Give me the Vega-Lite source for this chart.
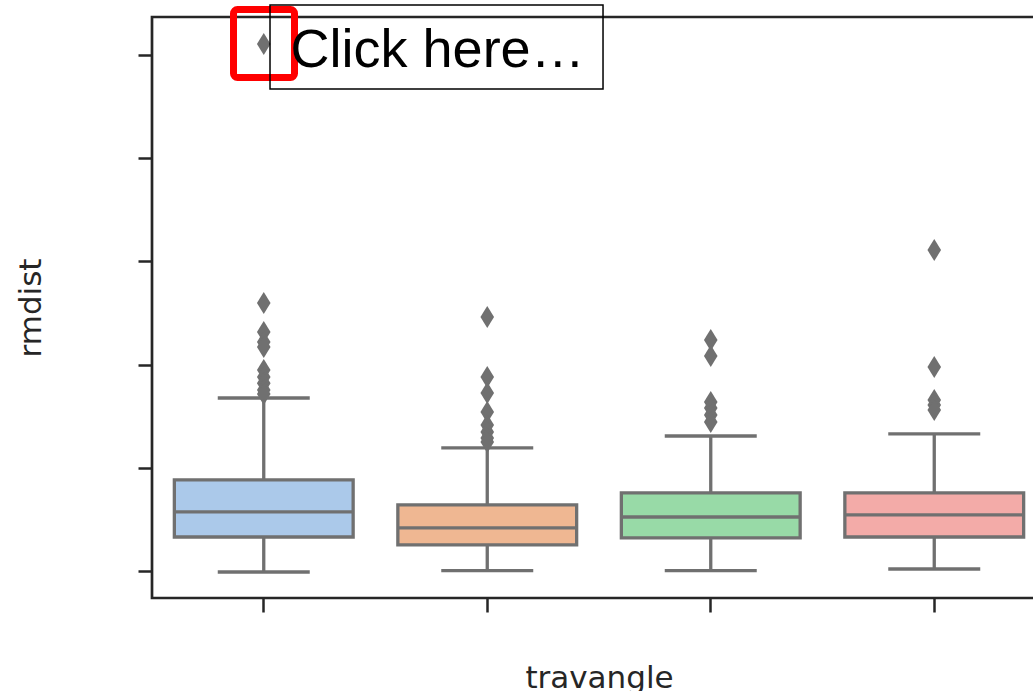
{
  "$schema": "https://vega.github.io/schema/vega-lite/v6.json",
  "width": 894,
  "height": 581,
  "autosize": "none",
  "padding": {"left": 152, "top": 17, "right": 0, "bottom": 93},
  "background": "white",
  "config": {
    "view": {"stroke": "#262626", "strokeWidth": 2.7},
    "axis": {
      "grid": false,
      "domain": false,
      "labels": false,
      "tickColor": "#262626",
      "tickWidth": 2.5,
      "tickSize": 14,
      "titleFont": "DejaVu Sans",
      "titleFontSize": 31,
      "titleFontWeight": "normal",
      "titleColor": "#262626"
    }
  },
  "datasets": {
    "boxes": [
      {"travangle": "A", "lower": -0.01, "q1": 0.329, "median": 0.572, "q3": 0.882, "upper": 1.676},
      {"travangle": "B", "lower": 0.003, "q1": 0.252, "median": 0.417, "q3": 0.64, "upper": 1.192},
      {"travangle": "C", "lower": 0.003, "q1": 0.32, "median": 0.523, "q3": 0.756, "upper": 1.308},
      {"travangle": "D", "lower": 0.019, "q1": 0.329, "median": 0.543, "q3": 0.756, "upper": 1.328}
    ],
    "outliers": [
      {"travangle": "A", "rmdist": 5.107},
      {"travangle": "A", "rmdist": 2.597},
      {"travangle": "A", "rmdist": 2.316},
      {"travangle": "A", "rmdist": 2.219},
      {"travangle": "A", "rmdist": 2.17},
      {"travangle": "A", "rmdist": 1.948},
      {"travangle": "A", "rmdist": 1.88},
      {"travangle": "A", "rmdist": 1.82},
      {"travangle": "A", "rmdist": 1.754},
      {"travangle": "A", "rmdist": 1.715},
      {"travangle": "B", "rmdist": 2.461},
      {"travangle": "B", "rmdist": 1.88},
      {"travangle": "B", "rmdist": 1.725},
      {"travangle": "B", "rmdist": 1.541},
      {"travangle": "B", "rmdist": 1.415},
      {"travangle": "B", "rmdist": 1.347},
      {"travangle": "B", "rmdist": 1.289},
      {"travangle": "B", "rmdist": 1.25},
      {"travangle": "C", "rmdist": 2.238},
      {"travangle": "C", "rmdist": 2.083},
      {"travangle": "C", "rmdist": 1.638},
      {"travangle": "C", "rmdist": 1.579},
      {"travangle": "C", "rmdist": 1.512},
      {"travangle": "C", "rmdist": 1.444},
      {"travangle": "D", "rmdist": 3.11},
      {"travangle": "D", "rmdist": 1.977},
      {"travangle": "D", "rmdist": 1.657},
      {"travangle": "D", "rmdist": 1.609},
      {"travangle": "D", "rmdist": 1.56}
    ],
    "highlight": [{"x0": 0.3647, "x1": 0.6376, "y0": 5.441, "y1": 4.782}],
    "textbox": [{"x0": 0.528, "x1": 2.018, "y0": 5.484, "y1": 4.671}],
    "label": [{"x": 0.62, "y": 4.884, "text": "Click here…"}]
  },
  "layer": [
    {
      "data": {"name": "boxes"},
      "layer": [
        {
          "mark": {"type": "rule", "stroke": "#707070", "strokeWidth": 3.3},
          "encoding": {
            "x": {"field": "travangle", "type": "nominal", "scale": {"type": "band", "domain": ["A", "B", "C", "D"], "paddingInner": 0, "paddingOuter": 0}, "title": "travangle", "axis": {"titlePadding": 50}},
            "y": {"field": "lower", "type": "quantitative", "scale": {"domain": [-0.262, 5.368], "nice": false, "zero": false}, "title": "rmdist", "axis": {"values": [0, 1, 2, 3, 4, 5], "titlePadding": 89}},
            "y2": {"field": "q1"}
          }
        },
        {
          "mark": {"type": "rule", "stroke": "#707070", "strokeWidth": 3.3},
          "encoding": {
            "x": {"field": "travangle", "type": "nominal", "scale": {"type": "band", "domain": ["A", "B", "C", "D"], "paddingInner": 0, "paddingOuter": 0}, "title": "travangle"},
            "y": {"field": "q3", "type": "quantitative", "scale": {"domain": [-0.262, 5.368], "nice": false, "zero": false}, "title": "rmdist"},
            "y2": {"field": "upper"}
          }
        },
        {
          "mark": {"type": "tick", "color": "#707070", "size": 92, "thickness": 3.3, "opacity": 1},
          "encoding": {
            "x": {"field": "travangle", "type": "nominal", "scale": {"type": "band", "domain": ["A", "B", "C", "D"], "paddingInner": 0, "paddingOuter": 0}, "title": "travangle"},
            "y": {"field": "lower", "type": "quantitative", "scale": {"domain": [-0.262, 5.368], "nice": false, "zero": false}, "title": "rmdist"}
          }
        },
        {
          "mark": {"type": "tick", "color": "#707070", "size": 92, "thickness": 3.3, "opacity": 1},
          "encoding": {
            "x": {"field": "travangle", "type": "nominal", "scale": {"type": "band", "domain": ["A", "B", "C", "D"], "paddingInner": 0, "paddingOuter": 0}, "title": "travangle"},
            "y": {"field": "upper", "type": "quantitative", "scale": {"domain": [-0.262, 5.368], "nice": false, "zero": false}, "title": "rmdist"}
          }
        },
        {
          "mark": {"type": "bar", "width": {"band": 0.8}, "stroke": "#707070", "strokeWidth": 3.3},
          "encoding": {
            "x": {"field": "travangle", "type": "nominal", "scale": {"type": "band", "domain": ["A", "B", "C", "D"], "paddingInner": 0, "paddingOuter": 0}, "title": "travangle"},
            "y": {"field": "q1", "type": "quantitative", "scale": {"domain": [-0.262, 5.368], "nice": false, "zero": false}, "title": "rmdist"},
            "y2": {"field": "q3"},
            "color": {"field": "travangle", "type": "nominal", "scale": {"domain": ["A", "B", "C", "D"], "range": ["#abc9ea", "#efb792", "#98daa7", "#f3aba8"]}, "legend": null}
          }
        },
        {
          "mark": {"type": "tick", "color": "#707070", "size": 179, "thickness": 3.3, "opacity": 1},
          "encoding": {
            "x": {"field": "travangle", "type": "nominal", "scale": {"type": "band", "domain": ["A", "B", "C", "D"], "paddingInner": 0, "paddingOuter": 0}, "title": "travangle"},
            "y": {"field": "median", "type": "quantitative", "scale": {"domain": [-0.262, 5.368], "nice": false, "zero": false}, "title": "rmdist"}
          }
        },
        {
          "data": {"name": "outliers"},
          "mark": {"type": "point", "shape": "M0,-1L0.62,0L0,1L-0.62,0Z", "filled": true, "size": 484, "color": "#707070", "opacity": 1, "strokeWidth": 0},
          "encoding": {
            "x": {"field": "travangle", "type": "nominal", "scale": {"type": "band", "domain": ["A", "B", "C", "D"], "paddingInner": 0, "paddingOuter": 0}, "title": "travangle"},
            "y": {"field": "rmdist", "type": "quantitative", "scale": {"domain": [-0.262, 5.368], "nice": false, "zero": false}, "title": "rmdist"}
          }
        }
      ]
    },
    {
      "layer": [
        {
          "data": {"name": "highlight"},
          "mark": {"type": "rect", "fill": null, "fillOpacity": 0, "stroke": "#ff0000", "strokeWidth": 7, "cornerRadius": 4},
          "encoding": {
            "x": {"field": "x0", "type": "quantitative", "scale": {"domain": [0, 4], "nice": false, "zero": false}, "axis": null},
            "x2": {"field": "x1"},
            "y": {"field": "y0", "type": "quantitative", "scale": {"domain": [-0.262, 5.368], "nice": false, "zero": false}, "title": "rmdist"},
            "y2": {"field": "y1"}
          }
        },
        {
          "data": {"name": "textbox"},
          "mark": {"type": "rect", "fill": null, "fillOpacity": 0, "stroke": "#000000", "strokeWidth": 1.5},
          "encoding": {
            "x": {"field": "x0", "type": "quantitative", "scale": {"domain": [0, 4], "nice": false, "zero": false}, "axis": null},
            "x2": {"field": "x1"},
            "y": {"field": "y0", "type": "quantitative", "scale": {"domain": [-0.262, 5.368], "nice": false, "zero": false}, "title": "rmdist"},
            "y2": {"field": "y1"}
          }
        },
        {
          "data": {"name": "label"},
          "mark": {"type": "text", "font": "Liberation Sans", "fontSize": 54, "align": "left", "baseline": "alphabetic", "color": "#000000"},
          "encoding": {
            "x": {"field": "x", "type": "quantitative", "scale": {"domain": [0, 4], "nice": false, "zero": false}, "axis": null},
            "y": {"field": "y", "type": "quantitative", "scale": {"domain": [-0.262, 5.368], "nice": false, "zero": false}, "title": "rmdist"},
            "text": {"field": "text"}
          }
        }
      ]
    }
  ],
  "resolve": {"scale": {"x": "independent"}}
}
